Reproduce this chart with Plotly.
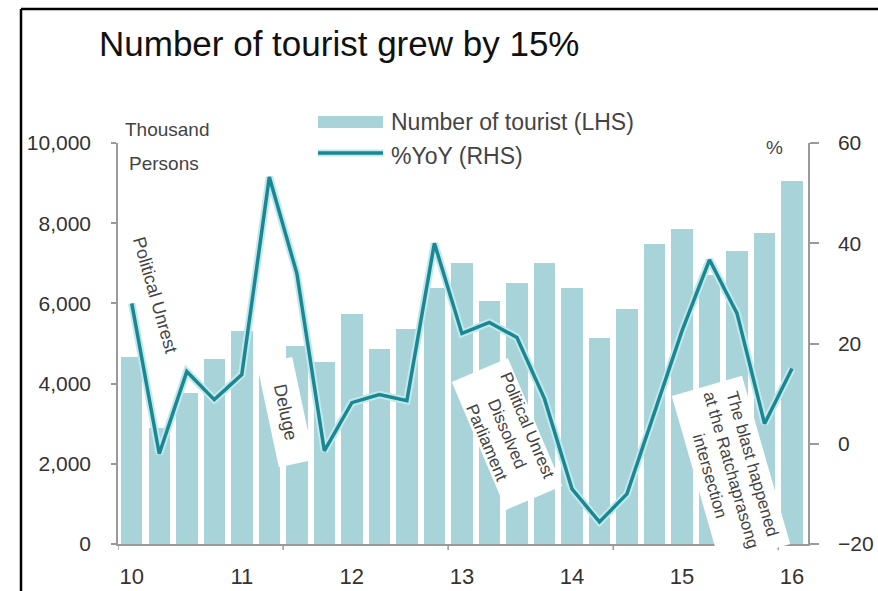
import plotly.graph_objects as go

# Quarterly series, 2010 Q1 to 2016 Q1
quarters = list(range(25))
tourists = [4660, 2900, 3770, 4610, 5310, 4450, 4940, 4540,
            5740, 4860, 5360, 6380, 7000, 6060, 6510, 7000,
            6380, 5140, 5860, 7480, 7850, 6700, 7300, 7750, 9050]
yoy = [28, -2, 14.4, 8.8, 13.8, 53.2, 34, -1.4,
       8.2, 9.8, 8.6, 40, 22, 24.2, 21.2, 9,
       -9, -15.6, -10, 6.5, 22.5, 36.7, 26, 4, 15]
year_pos = [0, 4, 8, 12, 16, 20, 24]
year_labels = ["10", "11", "12", "13", "14", "15", "16"]
year_edges = [-0.5, 5.5, 11.5, 17.5, 23.5]
lhs_ticks = [0, 2000, 4000, 6000, 8000, 10000]
rhs_ticks = [-20, 0, 20, 40, 60]

BAR = "#a8d3d9"
LINE = "#1a8893"
HALO = "#c2e8ec"
AXIS = "#9a9a9a"
TXT = "#333333"
FONT = "Liberation Sans, Arial, sans-serif"

W, H = 878, 591
L, R, T, B = 118, 70, 143, 47


def px(x):
    return (x - L) / (W - L - R)


def py(y):
    return (H - B - y) / (H - T - B)


fig = go.Figure()
fig.add_trace(go.Bar(x=quarters, y=tourists, width=0.78,
                     marker=dict(color=BAR, line=dict(width=0)),
                     name="Number of tourist (LHS)", yaxis="y"))
fig.add_trace(go.Scatter(x=quarters, y=yoy, mode="lines",
                         line=dict(color=HALO, width=7.5),
                         hoverinfo="skip", yaxis="y2"))
fig.add_trace(go.Scatter(x=quarters, y=yoy, mode="lines",
                         line=dict(color=LINE, width=3.5),
                         name="%YoY (RHS)", yaxis="y2"))

shapes = []
# tick marks at the year-boundary positions on the time axis
for e in year_edges:
    shapes.append(dict(type="line", xref="x", yref="paper", x0=e, x1=e,
                       y0=0, y1=-6 / (H - T - B),
                       line=dict(color=AXIS, width=1.5)))
# outer frame lines
shapes.append(dict(type="line", xref="paper", yref="paper",
                   x0=px(21), x1=px(900), y0=py(9), y1=py(9),
                   line=dict(color="black", width=2.5)))
shapes.append(dict(type="line", xref="paper", yref="paper",
                   x0=px(21), x1=px(21), y0=py(9), y1=py(600),
                   line=dict(color="black", width=2.5)))
# legend swatches
shapes.append(dict(type="rect", xref="paper", yref="paper",
                   x0=px(318), x1=px(383), y0=py(128), y1=py(116),
                   fillcolor=BAR, line=dict(width=0)))
shapes.append(dict(type="line", xref="paper", yref="paper",
                   x0=px(318), x1=px(383), y0=py(153), y1=py(153),
                   line=dict(color=HALO, width=7)))
shapes.append(dict(type="line", xref="paper", yref="paper",
                   x0=px(318), x1=px(383), y0=py(153), y1=py(153),
                   line=dict(color=LINE, width=3.5)))


def note(text, x, y, size, color=TXT, **kw):
    return dict(text=text, xref="paper", yref="paper", x=px(x), y=py(y),
                showarrow=False, font=dict(family=FONT, size=size, color=color),
                **kw)


annotations = [
    note("Number of tourist grew by 15%", 97, 44, 35, color="#111111",
         xanchor="left", yanchor="middle"),
    note("Number of tourist (LHS)", 389, 122, 23, color="#444444",
         xanchor="left", yanchor="middle"),
    note("%YoY (RHS)", 389, 156, 23, color="#444444",
         xanchor="left", yanchor="middle"),
    note("Thousand", 123, 130, 19, color="#444444",
         xanchor="left", yanchor="middle"),
    note("Persons", 127, 163, 19, color="#444444",
         xanchor="left", yanchor="middle"),
    note("%", 774, 147, 19, color="#444444",
         xanchor="center", yanchor="middle"),
    # event call-outs
    note("Political Unrest", 155, 295, 18, color="#444444",
         xanchor="center", yanchor="middle", textangle=74),
    note("Deluge", 286, 412, 18, color="#444444",
         xanchor="center", yanchor="middle", textangle=78,
         bgcolor="white", width=102, height=33),
    note("Political Unrest<br>Dissolved<br>Parliament", 507, 434, 17,
         color="#444444", xanchor="center", yanchor="middle", textangle=67,
         bgcolor="white", width=136, height=58),
    note("The blast happened<br>at the Ratchaprasong<br>intersection", 731, 470, 17,
         color="#444444", xanchor="center", yanchor="middle", textangle=74,
         bgcolor="white", width=172, height=70),
]

fig.update_layout(
    width=W, height=H, autosize=False,
    margin=dict(l=L, r=R, t=T, b=B, pad=0),
    paper_bgcolor="white", plot_bgcolor="white",
    showlegend=False, bargap=0,
    font=dict(family=FONT, color=TXT),
    xaxis=dict(range=[-0.5, 24.58], tickvals=year_pos, ticktext=year_labels,
               ticks="", showline=True, linecolor=AXIS, linewidth=1.5,
               showgrid=False, zeroline=False, ticklabelstandoff=12,
               automargin=False,
               tickfont=dict(size=22, color=TXT, family=FONT)),
    yaxis=dict(range=[0, 10000], tickvals=lhs_ticks, tickformat=",",
               ticks="outside", ticklen=5, tickcolor=AXIS, tickwidth=1.5,
               showline=True, linecolor=AXIS, linewidth=1.5,
               showgrid=False, zeroline=False, ticklabelstandoff=16,
               automargin=False,
               tickfont=dict(size=21, color=TXT, family=FONT)),
    yaxis2=dict(range=[-20, 60], tickvals=rhs_ticks, overlaying="y",
                side="right", anchor="x",
                ticks="outside", ticklen=9, tickcolor=AXIS, tickwidth=1.5,
                showline=True, linecolor=AXIS, linewidth=1.5,
                showgrid=False, zeroline=False, ticklabelstandoff=15,
                automargin=False,
                tickfont=dict(size=21, color=TXT, family=FONT)),
    shapes=shapes,
    annotations=annotations,
)

fig.write_html("out.html")
